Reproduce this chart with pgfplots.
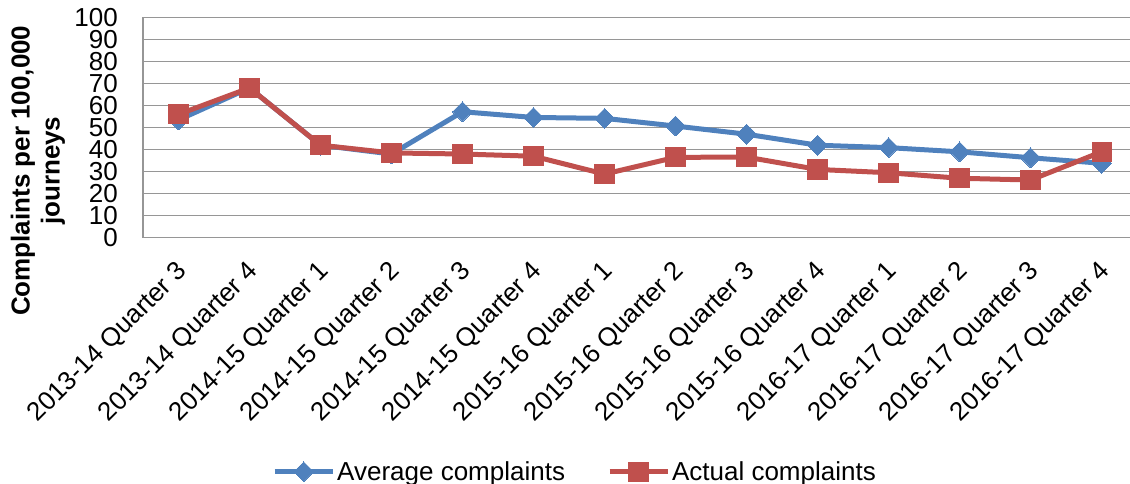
\documentclass[border=0pt]{standalone}
\usepackage{pgfplots}
\pgfplotsset{compat=1.18}
\usepackage{fontspec}
\setmainfont{Liberation Sans}
\definecolor{avgblue}{HTML}{4F81BD}
\definecolor{actred}{HTML}{C0504D}
\definecolor{gridgray}{HTML}{969696}
\begin{document}
\begin{tikzpicture}
\begin{axis}[
  scale only axis, width=987pt, height=220.2pt,
  xmin=-0.5, xmax=13.4, ymin=0, ymax=100,
  xtick={0,...,13},
  xticklabels={2013-14 Quarter 3,2013-14 Quarter 4,2014-15 Quarter 1,2014-15 Quarter 2,2014-15 Quarter 3,2014-15 Quarter 4,2015-16 Quarter 1,2015-16 Quarter 2,2015-16 Quarter 3,2015-16 Quarter 4,2016-17 Quarter 1,2016-17 Quarter 2,2016-17 Quarter 3,2016-17 Quarter 4},
  ytick={0,10,...,100},
  axis lines*=left,
  axis line style={gridgray, line width=1.5pt, -},
  ymajorgrids, grid style={gridgray, line width=1.5pt},
  major tick length=0pt,
  tick label style={font=\fontsize{26}{28}\selectfont},
  /pgf/number format/assume math mode=true,
  yticklabel style={inner sep=0pt, anchor=east, xshift=-25pt},
  xticklabel style={inner sep=0pt, xshift=5pt, yshift=-30pt, rotate=45, anchor=east},
  every axis y label/.style={at={(axis description cs:-0.1064,0.304)}, rotate=90, anchor=center, align=center, font=\fontsize{26}{30}\selectfont\bfseries},
  ylabel={Complaints per 100,000\\journeys},
  legend columns=2,
  legend style={draw=none, fill=none, at={(axis description cs:0.4377,-1.0627)}, anchor=center, font=\fontsize{26}{28}\selectfont, inner sep=0pt, /tikz/every even column/.append style={column sep=40pt}},
  legend image code/.code={\draw[mark repeat=2,mark phase=2] plot coordinates {(0pt,0pt) (29pt,0pt) (58pt,0pt)};},
]
\addplot[avgblue, line width=5pt, mark=square*, mark size=7pt, mark options={rotate=45, solid, fill=avgblue, draw=avgblue, line width=0pt}] coordinates {
(0,53.5) (1,68) (2,42) (3,38) (4,57.2) (5,54.6) (6,54.2) (7,50.7) (8,47) (9,42) (10,40.9) (11,39) (12,36.3) (13,33.8)};
\addlegendentry{Average complaints}
\addplot[actred, line width=5pt, mark=square*, mark size=9.6pt, mark options={solid, fill=actred, draw=actred, line width=0pt}] coordinates {
(0,56) (1,68) (2,42) (3,38.5) (4,38) (5,37) (6,28.9) (7,36.5) (8,36.6) (9,31) (10,29.5) (11,27) (12,26.2) (13,39)};
\addlegendentry{Actual complaints}
\end{axis}
\pgfresetboundingbox
\path ([shift={(-143pt,-246.3pt)}]current axis.south west) rectangle ([shift={(0pt,17.5pt)}]current axis.north east);
\end{tikzpicture}
\end{document}
